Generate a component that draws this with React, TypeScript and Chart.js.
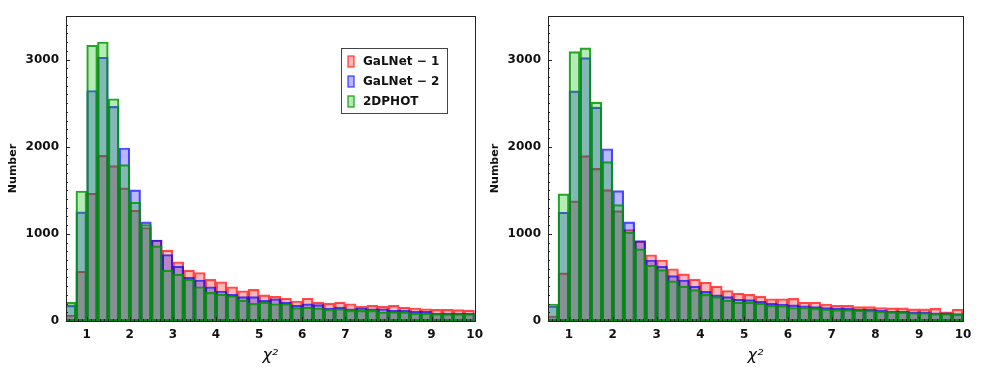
import React, { useEffect, useRef } from "react";
import { Chart, registerables } from "chart.js";

Chart.register(...registerables);

// Histogram bin centres (bins of width 0.25 from 0.5 to 10)
const binCenters = [
  0.625, 0.875, 1.125, 1.375, 1.625, 1.875, 2.125, 2.375, 2.625, 2.875,
  3.125, 3.375, 3.625, 3.875, 4.125, 4.375, 4.625, 4.875, 5.125, 5.375,
  5.625, 5.875, 6.125, 6.375, 6.625, 6.875, 7.125, 7.375, 7.625, 7.875,
  8.125, 8.375, 8.625, 8.875, 9.125, 9.375, 9.625, 9.875,
];

// Left panel
const leftGalnet1 = [
  69, 573, 1466, 1901, 1783, 1527, 1271, 1073, 930, 813,
  680, 584, 557, 477, 450, 393, 347, 363, 300, 282,
  263, 229, 263, 217, 206, 217, 198, 168, 179, 168,
  179, 160, 149, 141, 133, 133, 130, 125,
];
const leftGalnet2 = [
  179, 1252, 2645, 3027, 2462, 1985, 1504, 1137, 930, 763,
  630, 500, 470, 393, 344, 305, 279, 279, 236, 255,
  217, 179, 198, 187, 149, 160, 141, 149, 141, 141,
  122, 122, 110, 110, 91, 91, 91, 91,
];
const left2dphot = [
  214, 1492, 3164, 3202, 2550, 1794, 1363, 1107, 863, 584,
  538, 481, 393, 328, 309, 290, 240, 202, 217, 198,
  198, 152, 160, 149, 133, 141, 122, 122, 122, 103,
  103, 103, 91, 91, 84, 80, 80, 80,
];

// Right panel
const rightGalnet1 = [
  57, 553, 1378, 1897, 1752, 1508, 1267, 1050, 916, 760,
  700, 600, 540, 480, 445, 400, 350, 320, 305, 285,
  255, 255, 260, 215, 215, 195, 180, 180, 165, 165,
  155, 150, 150, 140, 140, 145, 105, 135,
];
const rightGalnet2 = [
  172, 1248, 2641, 3023, 2454, 1977, 1496, 1137, 924, 700,
  630, 520, 470, 400, 340, 300, 280, 250, 245, 225,
  205, 195, 185, 175, 165, 155, 145, 145, 135, 135,
  125, 115, 115, 105, 105, 95, 95, 85,
];
const right2dphot = [
  195, 1458, 3092, 3134, 2512, 1828, 1336, 1019, 828, 640,
  590, 460, 400, 360, 305, 280, 240, 215, 215, 205,
  180, 175, 155, 155, 145, 135, 130, 130, 125, 120,
  110, 105, 100, 95, 95, 85, 85, 80,
];

const seriesNames = ["GaLNet \u2212 1", "GaLNet \u2212 2", "2DPHOT"];
const xMajorTicks = [1, 2, 3, 4, 5, 6, 7, 8, 9, 10];
const yMajorTicks = [0, 1000, 2000, 3000];
const xMin = 0.52;
const xMax = 10;
const yMax = 3500;
const xMinorStep = 0.1;
const yMinorStep = 100;

const fills = ["rgba(255,0,0,0.28)", "rgba(0,0,255,0.28)", "rgba(0,180,0,0.28)"];
const edges = ["rgba(255,0,0,0.7)", "rgba(0,0,255,0.7)", "rgba(0,150,0,0.85)"];

const frameTicksPlugin = {
  id: "frameTicks",
  afterDatasetsDraw(chart: any) {
    const { ctx, chartArea } = chart;
    const xs = chart.scales.x;
    const ys = chart.scales.y;
    ctx.save();
    ctx.strokeStyle = "#222";
    ctx.lineWidth = 1;
    ctx.beginPath();
    const bottom = chartArea.bottom;
    const left = chartArea.left;
    for (let v = Math.ceil(xMin / xMinorStep) * xMinorStep; v <= xMax + 1e-9; v += xMinorStep) {
      const px = Math.round(xs.getPixelForValue(v)) + 0.5;
      const isMajor = xMajorTicks.some((t) => Math.abs(t - v) < 1e-6);
      const len = isMajor ? 4 : 2;
      ctx.moveTo(px, bottom);
      ctx.lineTo(px, bottom - len);
    }
    for (let v = 0; v <= yMax + 1e-9; v += yMinorStep) {
      const py = Math.round(ys.getPixelForValue(v)) + 0.5;
      const isMajor = yMajorTicks.some((t) => Math.abs(t - v) < 1e-6);
      const len = isMajor ? 4 : 2;
      ctx.moveTo(left, py);
      ctx.lineTo(left + len, py);
    }
    ctx.stroke();
    ctx.strokeRect(
      Math.round(chartArea.left) + 0.5,
      Math.round(chartArea.top) + 0.5,
      Math.round(chartArea.right - chartArea.left),
      Math.round(chartArea.bottom - chartArea.top)
    );
    ctx.restore();
  },
};

const legendPlugin = {
  id: "boxLegend",
  afterDraw(chart: any, _args: any, opts: any) {
    if (!opts || !opts.show) return;
    const { ctx } = chart;
    const bx = opts.x, by = opts.y, bw = opts.w, bh = opts.h;
    ctx.save();
    ctx.fillStyle = "rgba(255,255,255,0.9)";
    ctx.fillRect(bx, by, bw, bh);
    ctx.strokeStyle = "#444";
    ctx.lineWidth = 1;
    ctx.strokeRect(bx + 0.5, by + 0.5, bw, bh);
    ctx.font = "bold 12px 'DejaVu Sans'";
    ctx.textBaseline = "middle";
    ctx.textAlign = "left";
    seriesNames.forEach((name, i) => {
      const cy = by + 13 + i * 20;
      ctx.fillStyle = "#fff";
      ctx.fillRect(bx + 7, cy - 5, 6, 11);
      ctx.fillStyle = fills[i];
      ctx.fillRect(bx + 7, cy - 5, 6, 11);
      ctx.strokeStyle = edges[i];
      ctx.lineWidth = 1.3;
      ctx.strokeRect(bx + 7, cy - 5, 6, 11);
      ctx.fillStyle = "#111";
      ctx.fillText(name, bx + 22, cy + 0.5);
    });
    ctx.restore();
  },
};

function makeConfig(
  a: number[],
  b: number[],
  c: number[],
  padRight: number,
  legend: any
): any {
  const series = [a, b, c];
  const orders = [3, 2, 1];
  return {
    type: "bar",
    data: {
      datasets: series.map((vals, i) => ({
        label: seriesNames[i],
        data: binCenters.map((x, k) => ({ x, y: vals[k] })),
        backgroundColor: fills[i],
        borderColor: edges[i],
        borderWidth: 1.5,
        borderSkipped: false,
        order: orders[i],
        grouped: false,
        barPercentage: 1,
        categoryPercentage: 1,
      })),
    },
    options: {
      animation: false,
      responsive: false,
      events: [],
      layout: { padding: { left: 0, top: 16, right: padRight, bottom: 0 } },
      plugins: {
        legend: { display: false },
        tooltip: { enabled: false },
        title: { display: false },
        boxLegend: legend,
      },
      scales: {
        x: {
          type: "linear",
          min: xMin,
          max: xMax,
          offset: false,
          grid: { display: false, drawTicks: false },
          border: { display: false },
          afterBuildTicks: (scale: any) => {
            scale.ticks = xMajorTicks.map((v) => ({ value: v }));
          },
          afterFit: (scale: any) => {
            scale.height = 48;
          },
          ticks: {
            padding: 7,
            color: "#111",
            font: { family: "'DejaVu Sans'", size: 12, weight: "bold" },
            callback: (v: any) => String(v),
            maxRotation: 0,
            autoSkip: false,
          },
          title: {
            display: true,
            text: "\u03c7\u00b2",
            color: "#111",
            font: { family: "'DejaVu Sans'", size: 16, style: "italic" },
            padding: { top: 0, bottom: 4 },
          },
        },
        y: {
          type: "linear",
          min: 0,
          max: yMax,
          grid: { display: false, drawTicks: false },
          border: { display: false },
          afterBuildTicks: (scale: any) => {
            scale.ticks = yMajorTicks.map((v) => ({ value: v }));
          },
          afterFit: (scale: any) => {
            scale.width = 66;
          },
          ticks: {
            padding: 7,
            color: "#111",
            font: { family: "'DejaVu Sans'", size: 12, weight: "bold" },
            callback: (v: any) => String(v),
          },
          title: {
            display: true,
            text: "Number",
            color: "#111",
            font: { family: "'DejaVu Sans'", size: 11, weight: "bold" },
            padding: { top: 7, bottom: 0 },
          },
        },
      },
    },
    plugins: [frameTicksPlugin, legendPlugin],
  };
}

function HistPanel(props: {
  a: number[];
  b: number[];
  c: number[];
  left: number;
  width: number;
  padRight: number;
  legend: any;
}) {
  const ref = useRef<HTMLCanvasElement | null>(null);
  useEffect(() => {
    if (!ref.current) return;
    const chart = new Chart(
      ref.current,
      makeConfig(props.a, props.b, props.c, props.padRight, props.legend)
    );
    return () => chart.destroy();
  }, []);
  return (
    <canvas
      ref={ref}
      width={props.width}
      height={369}
      style={{
        position: "absolute",
        left: props.left,
        top: 0,
        width: props.width,
        height: 369,
        display: "block",
      }}
    />
  );
}

export default function App() {
  return (
    <div
      style={{
        position: "fixed",
        left: 0,
        top: 0,
        width: 981,
        height: 369,
        background: "#fff",
        overflow: "hidden",
      }}
    >
      <HistPanel
        a={leftGalnet1}
        b={leftGalnet2}
        c={left2dphot}
        left={0}
        width={490}
        padRight={11}
        legend={{ show: true, x: 341, y: 48, w: 106, h: 65 }}
      />
      <HistPanel
        a={rightGalnet1}
        b={rightGalnet2}
        c={right2dphot}
        left={482}
        width={499}
        padRight={18}
        legend={{ show: false }}
      />
    </div>
  );
}
